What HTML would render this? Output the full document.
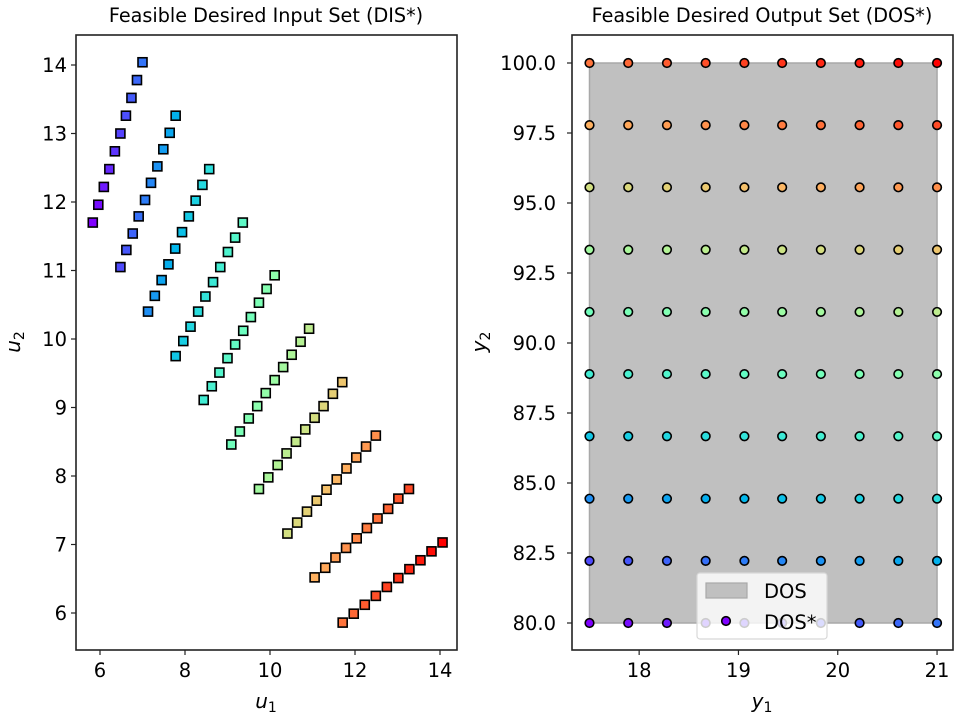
<!DOCTYPE html>
<html><head><meta charset="utf-8"><style>
body{margin:0;background:#fff}
svg text{font-family:"DejaVu Sans","Liberation Sans",sans-serif;fill:#000}
</style></head><body>
<svg id="c" width="960" height="720" viewBox="0 0 960 720"></svg>
<script>
const disU1 = [
[5.83,5.96,6.09,6.22,6.35,6.48,6.61,6.74,6.87,7.00],
[6.48,6.62,6.77,6.91,7.06,7.20,7.35,7.49,7.64,7.78],
[7.13,7.29,7.45,7.61,7.77,7.93,8.09,8.25,8.41,8.57],
[7.78,7.96,8.13,8.31,8.48,8.66,8.83,9.01,9.18,9.36],
[8.44,8.63,8.81,9.00,9.18,9.37,9.55,9.74,9.92,10.11],
[9.09,9.29,9.50,9.70,9.90,10.11,10.31,10.51,10.72,10.92],
[9.74,9.96,10.18,10.39,10.61,10.83,11.05,11.26,11.48,11.70],
[10.41,10.64,10.87,11.10,11.33,11.57,11.80,12.03,12.26,12.49],
[11.05,11.30,11.54,11.79,12.04,12.28,12.53,12.78,13.02,13.27],
[11.71,11.97,12.23,12.49,12.75,13.02,13.28,13.54,13.80,14.06]];
const disU2 = [
[11.70,11.96,12.22,12.48,12.74,13.00,13.26,13.52,13.78,14.04],
[11.05,11.30,11.54,11.79,12.03,12.28,12.52,12.77,13.01,13.26],
[10.40,10.63,10.86,11.09,11.32,11.56,11.79,12.02,12.25,12.48],
[9.75,9.97,10.18,10.40,10.62,10.83,11.05,11.27,11.48,11.70],
[9.11,9.31,9.51,9.72,9.92,10.12,10.32,10.53,10.73,10.93],
[8.46,8.65,8.84,9.02,9.21,9.40,9.59,9.77,9.96,10.15],
[7.81,7.98,8.16,8.33,8.50,8.68,8.85,9.02,9.20,9.37],
[7.16,7.32,7.48,7.64,7.80,7.95,8.11,8.27,8.43,8.59],
[6.52,6.66,6.81,6.95,7.09,7.24,7.38,7.52,7.67,7.81],
[5.86,5.99,6.12,6.25,6.38,6.51,6.64,6.77,6.90,7.03]];
const dosY1 = [17.50,17.89,18.28,18.67,19.06,19.44,19.83,20.22,20.61,21.00];
const dosY2 = [80.00,82.22,84.44,86.67,88.89,91.11,93.33,95.56,97.78,100.00];
const dosRect = [17.5,21,80,100];
const leftXTicks = [6,8,10,12,14];
const leftYTicks = [6,7,8,9,10,11,12,13,14];
const rightXTicks = [18,19,20,21];
const rightYTicks = ["80.0","82.5","85.0","87.5","90.0","92.5","95.0","97.5","100.0"];

const NS="http://www.w3.org/2000/svg", svg=document.getElementById('c');
function mk(tag,attrs,parent,text){const e=document.createElementNS(NS,tag);for(const k in attrs)e.setAttribute(k,attrs[k]);if(text!==undefined)e.textContent=text;(parent||svg).appendChild(e);return e;}
function rainbow(t){const r=Math.min(1,Math.abs(2*t-0.5)),g=Math.sin(Math.PI*t),b=Math.cos(Math.PI*t/2);return `rgb(${Math.round(r*255)},${Math.round(g*255)},${Math.round(Math.max(0,b)*255)})`;}
function cval(j,i){return 0.85*j/9+0.15*i/9;}
const TF=19.5;
const L={x0:76,x1:457,y0:35,y1:650};
const lx=v=>100+(v-6)*42.5, ly=v=>65+(14-v)*68.5;
const R={x0:572,x1:953,y0:35,y1:650};
const rx=v=>589.5+(v-17.5)*99.3, ry=v=>63+(100-v)*28;

function frame(A,name){const r=mk('rect',{x:A.x0,y:A.y0,width:A.x1-A.x0,height:A.y1-A.y0,fill:'none',stroke:'#222','stroke-width':1.6});}

let t=mk('text',{x:266,y:22,'text-anchor':'middle','font-size':19.2},svg,'Feasible Desired Input Set (DIS*)');

t=mk('text',{x:762,y:22,'text-anchor':'middle','font-size':19.2},svg,'Feasible Desired Output Set (DOS*)');


const gL=mk('g',{});
for(let j=0;j<10;j++)for(let i=0;i<10;i++){
  const x=lx(disU1[j][i]),y=ly(disU2[j][i]);
  const s=mk('rect',{x:x-4.5,y:y-4.5,width:9,height:9,fill:rainbow(cval(j,i)),stroke:'#000','stroke-width':1.6},gL);
  
  
}
frame(L,'left-axes-frame');
leftXTicks.forEach(v=>{const x=lx(v);mk('line',{x1:x,x2:x,y1:L.y1,y2:L.y1+5,stroke:'#222','stroke-width':1.2});
 const e=mk('text',{x:x,y:L.y1+27,'text-anchor':'middle','font-size':TF},svg,String(v));});
leftYTicks.forEach(v=>{const y=ly(v);mk('line',{x1:L.x0-5,x2:L.x0,y1:y,y2:y,stroke:'#222','stroke-width':1.2});
 const e=mk('text',{x:L.x0-9,y:y+7,'text-anchor':'end','font-size':TF},svg,String(v));});
t=mk('text',{x:266,y:708,'text-anchor':'middle','font-size':20,'font-style':'italic'},svg);
mk('tspan',{},t,'u');mk('tspan',{'font-size':14,dy:4,'font-style':'normal'},t,'1');

t=mk('text',{transform:'translate(20,342) rotate(-90)','text-anchor':'middle','font-size':20,'font-style':'italic'},svg);
mk('tspan',{},t,'u');mk('tspan',{'font-size':14,dy:4,'font-style':'normal'},t,'2');


const dr=mk('rect',{x:rx(dosRect[0]),y:ry(dosRect[3]),width:rx(dosRect[1])-rx(dosRect[0]),height:ry(dosRect[2])-ry(dosRect[3]),fill:'#c0c0c0',stroke:'#a8a8a8','stroke-width':1.5});

const gR=mk('g',{});
for(let j=0;j<10;j++)for(let i=0;i<10;i++){
  const c=mk('circle',{cx:rx(dosY1[i]),cy:ry(dosY2[j]),r:4.3,fill:rainbow(cval(j,i)),stroke:'#000','stroke-width':1.6},gR);
  
  
}
frame(R,'right-axes-frame');
rightXTicks.forEach(v=>{const x=rx(v);mk('line',{x1:x,x2:x,y1:R.y1,y2:R.y1+5,stroke:'#222','stroke-width':1.2});
 const e=mk('text',{x:x,y:R.y1+27,'text-anchor':'middle','font-size':TF},svg,String(v));});
rightYTicks.forEach(v=>{const y=ry(parseFloat(v));mk('line',{x1:R.x0-5,x2:R.x0,y1:y,y2:y,stroke:'#222','stroke-width':1.2});
 const e=mk('text',{x:R.x0-16,y:y+7,'text-anchor':'end','font-size':TF},svg,v);});
t=mk('text',{x:762,y:708,'text-anchor':'middle','font-size':20,'font-style':'italic'},svg);
mk('tspan',{},t,'y');mk('tspan',{'font-size':14,dy:4,'font-style':'normal'},t,'1');

t=mk('text',{transform:'translate(486,342) rotate(-90)','text-anchor':'middle','font-size':20,'font-style':'italic'},svg);
mk('tspan',{},t,'y');mk('tspan',{'font-size':14,dy:4,'font-style':'normal'},t,'2');


const lg=mk('g',{});
mk('rect',{x:697,y:573,width:130,height:66,rx:3,fill:'#fff','fill-opacity':0.8,stroke:'#d8d8d8','stroke-width':1.2},lg);
mk('rect',{x:706,y:583,width:41,height:15,fill:'#c0c0c0',stroke:'#a8a8a8','stroke-width':1.2},lg);
let le=mk('text',{x:764,y:598,'font-size':19.5},lg,'DOS');
mk('circle',{cx:726,cy:621,r:4.3,fill:rainbow(0),stroke:'#000','stroke-width':1.6},lg);
le=mk('text',{x:764,y:629,'font-size':19.5},lg,'DOS*');
</script>
</body></html>
